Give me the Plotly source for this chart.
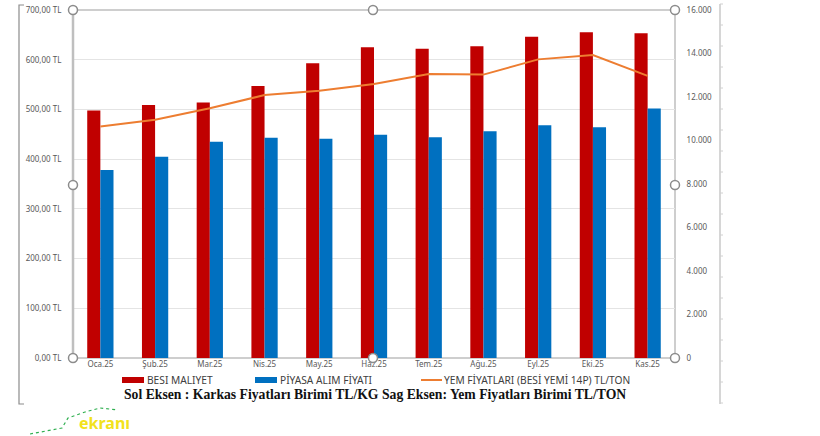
import plotly.graph_objects as go

months = ["Oca.25", "Şub.25", "Mar.25", "Nis.25", "May.25", "Haz.25",
          "Tem.25", "Ağu.25", "Eyl.25", "Eki.25", "Kas.25"]
besi_maliyet = [498, 509, 514, 547, 593, 625, 622, 627, 646, 655, 653]
piyasa_alim = [378, 405, 435, 443, 441, 449, 444, 456, 468, 464, 502]
yem_fiyat = [10640, 10950, 11480, 12090, 12290, 12600, 13060, 13030, 13730, 13930, 12970]

left_ticks = [0, 100, 200, 300, 400, 500, 600, 700]
left_labels = ["0,00 TL", "100,00 TL", "200,00 TL", "300,00 TL", "400,00 TL",
               "500,00 TL", "600,00 TL", "700,00 TL"]
right_ticks = [0, 2000, 4000, 6000, 8000, 10000, 12000, 14000, 16000]
right_labels = ["0", "2.000", "4.000", "6.000", "8.000", "10.000", "12.000", "14.000", "16.000"]

W, H = 820, 436
L, R, T, B = 73, 675, 10, 358


def px(x):
    return (x - L) / (R - L)


def py(y):
    return (B - y) / (B - T)


fig = go.Figure()
fig.add_trace(go.Bar(x=months, y=besi_maliyet, name="BESI MALIYET",
                     marker=dict(color="#C00000", line_width=0)))
fig.add_trace(go.Bar(x=months, y=piyasa_alim, name="PİYASA ALIM FİYATI",
                     marker=dict(color="#0070C0", line_width=0)))
fig.add_trace(go.Scatter(x=months, y=yem_fiyat, name="YEM FİYATLARI (BESİ YEMİ 14P) TL/TON",
                         yaxis="y2", mode="lines",
                         line=dict(color="#ED7D31", width=2)))

shapes = []
shapes.append(dict(type="rect", xref="paper", yref="paper", x0=0, x1=1, y0=0, y1=1,
                   line=dict(color="#BFBFBF", width=1.5), layer="below"))
shapes.append(dict(type="line", xref="paper", yref="paper", x0=0, x1=0, y0=0, y1=1,
                   line=dict(color="#BFBFBF", width=2.5)))
for hx, hy in [(73, 10), (373, 10), (675, 10), (73, 185), (675, 185),
               (73, 358), (373, 358), (675, 358)]:
    shapes.append(dict(type="circle", xref="paper", yref="paper",
                       x0=px(hx - 4.5), x1=px(hx + 4.5), y0=py(hy + 4.5), y1=py(hy - 4.5),
                       line=dict(color="#8C8C8C", width=1.5), fillcolor="white"))
shapes.append(dict(type="path", xref="paper", yref="paper",
                   path=f"M {px(24)} {py(5)} L {px(19)} {py(5)} L {px(19)} {py(404)} L {px(24)} {py(404)}",
                   line=dict(color="#8C8C8C", width=1.2)))
shapes.append(dict(type="line", xref="paper", yref="paper", x0=px(720), x1=px(720),
                   y0=py(4), y1=py(404), line=dict(color="#C8C8C8", width=1.5)))
for i in range(20):
    yy = 4 + i * 21
    if yy > 404:
        break
    shapes.append(dict(type="line", xref="paper", yref="paper", x0=px(720), x1=px(723),
                       y0=py(yy), y1=py(yy), line=dict(color="#D0D0D0", width=1)))
shapes.append(dict(type="rect", xref="paper", yref="paper", x0=px(122), x1=px(144),
                   y0=py(383), y1=py(377), fillcolor="#C00000", line_width=0))
shapes.append(dict(type="rect", xref="paper", yref="paper", x0=px(255), x1=px(277),
                   y0=py(383), y1=py(377), fillcolor="#0070C0", line_width=0))
shapes.append(dict(type="line", xref="paper", yref="paper", x0=px(421), x1=px(442),
                   y0=py(380), y1=py(380), line=dict(color="#ED7D31", width=2)))
shapes.append(dict(type="path", xref="paper", yref="paper",
                   path=f"M {px(30)} {py(434)} L {px(62)} {py(428)} L {px(68)} {py(418)} L {px(85)} {py(412)} L {px(100)} {py(408)} L {px(118)} {py(410)}",
                   line=dict(color="#2EAF4F", width=1.2, dash="dot")))

annotations = [
    dict(text="BESI MALIYET", x=px(145), y=py(380), xref="paper", yref="paper",
         xanchor="left", yanchor="middle", showarrow=False,
         font=dict(size=10.2, color="#404040", family="Noto Sans")),
    dict(text="PİYASA ALIM FİYATI", x=px(278), y=py(380), xref="paper", yref="paper",
         xanchor="left", yanchor="middle", showarrow=False,
         font=dict(size=10.2, color="#404040", family="Noto Sans")),
    dict(text="YEM FİYATLARI (BESİ YEMİ 14P) TL/TON", x=px(442), y=py(380), xref="paper", yref="paper",
         xanchor="left", yanchor="middle", showarrow=False,
         font=dict(size=10.2, color="#404040", family="Noto Sans")),
    dict(text="<b>Sol Eksen : Karkas Fiyatları Birimi TL/KG Sag Eksen: Yem Fiyatları Birimi TL/TON</b>",
         x=px(122), y=py(394), xref="paper", yref="paper",
         xanchor="left", yanchor="middle", showarrow=False,
         font=dict(size=13.7, color="#111111", family="Liberation Serif")),
    dict(text="<b>ekranı</b>", x=px(77), y=py(423), xref="paper", yref="paper",
         xanchor="left", yanchor="middle", showarrow=False,
         font=dict(size=16, color="#F2E21C", family="Noto Sans")),
]

fig.update_layout(
    width=W, height=H,
    margin=dict(l=L, r=W - R, t=T, b=H - B, pad=0),
    paper_bgcolor="white", plot_bgcolor="white",
    barmode="group", bargap=0.52, bargroupgap=0,
    showlegend=False,
    xaxis=dict(type="category", showgrid=False, showline=False, ticks="",
               tickfont=dict(size=8, color="#595959", family="Noto Sans"),
               automargin=False),
    yaxis=dict(range=[0, 700], tickvals=left_ticks, ticktext=left_labels,
               showgrid=True, gridcolor="#E4E4E4", gridwidth=1, zeroline=False,
               showline=False, ticks="outside", ticklen=9, tickcolor="rgba(0,0,0,0)",
               tickfont=dict(size=8, color="#595959", family="Noto Sans"),
               automargin=False),
    yaxis2=dict(range=[0, 16000], tickvals=right_ticks, ticktext=right_labels,
                overlaying="y", side="right", showgrid=False, zeroline=False,
                showline=False, ticks="outside", ticklen=9, tickcolor="rgba(0,0,0,0)",
                tickfont=dict(size=8, color="#595959", family="Noto Sans"),
                automargin=False),
    shapes=shapes,
    annotations=annotations,
)

fig.write_html("out.html", config={"displayModeBar": False},
               post_script="document.body.style.margin='0';document.body.style.padding='0';")
